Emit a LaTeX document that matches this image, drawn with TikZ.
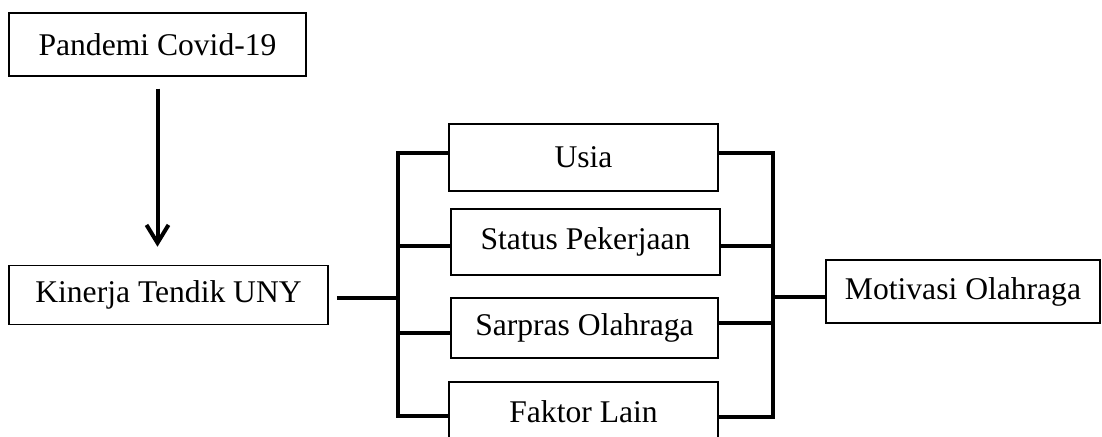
\documentclass[tikz,border=0pt]{standalone}
\usepackage{fontspec}
\setmainfont{Liberation Serif}
\usetikzlibrary{arrows.meta}
\begin{document}
\begin{tikzpicture}[x=0.5pt, y=-0.5pt,
    box/.style={draw, line width=0.75pt, inner sep=0pt, font=\fontsize{15.8}{19}\selectfont},
    bus/.style={line width=2.3pt},
    flow/.style={line width=2pt, -{Straight Barb[length=9pt, width=11pt, line width=2pt]}}]
    \clip (0,0) rectangle (1102,437);

    % Boxes
    \node[box, minimum width=148.5pt, minimum height=31.5pt] (pandemi) at (157.5,44.5) {Pandemi Covid-19};
    \node[box, minimum width=159.5pt, minimum height=29.5pt] (kinerja) at (168.5,295) {Kinerja Tendik UNY};
    \node[box, minimum width=134.5pt, minimum height=33.5pt] (usia) at (583.5,157.5) {Usia};
    \node[box, minimum width=134.5pt, minimum height=33pt] (status) at (585.5,242) {Status Pekerjaan};
    \node[box, minimum width=133.5pt, minimum height=30pt] (sarpras) at (584.5,328) {Sarpras Olahraga};
    \node[box, minimum width=134.5pt, minimum height=30pt] (faktor) at (583.5,412) {Faktor Lain};
    \node[box, minimum width=137pt, minimum height=31.5pt] (motivasi) at (963,291.5) {Motivasi Olahraga};

    % Arrow
    \draw[flow, shorten <=6pt, shorten >=9pt] (pandemi.south) -- (pandemi.south |- kinerja.north);

    % Left bus
    \coordinate (lusia) at (398,153);
    \coordinate (lstatus) at (398,246);
    \coordinate (lmid) at (398,298);
    \coordinate (lsarpras) at (398,333);
    \coordinate (lfaktor) at (398,416);
    \draw[bus] (usia.west |- lusia) -- (lusia) -- (lfaktor) -- (faktor.west |- lfaktor);
    \draw[bus] (lstatus) -- (status.west |- lstatus);
    \draw[bus] (lsarpras) -- (sarpras.west |- lsarpras);
    \draw[bus, shorten <=4pt] (kinerja.east |- lmid) -- (lmid);

    % Right bus
    \coordinate (rusia) at (773,153);
    \coordinate (rstatus) at (773,246);
    \coordinate (rmid) at (773,297);
    \coordinate (rsarpras) at (773,323);
    \coordinate (rfaktor) at (773,417);
    \draw[bus] (usia.east |- rusia) -- (rusia) -- (rfaktor) -- (faktor.east |- rfaktor);
    \draw[bus] (status.east |- rstatus) -- (rstatus);
    \draw[bus] (sarpras.east |- rsarpras) -- (rsarpras);
    \draw[bus] (rmid) -- (motivasi.west |- rmid);
\end{tikzpicture}
\end{document}
